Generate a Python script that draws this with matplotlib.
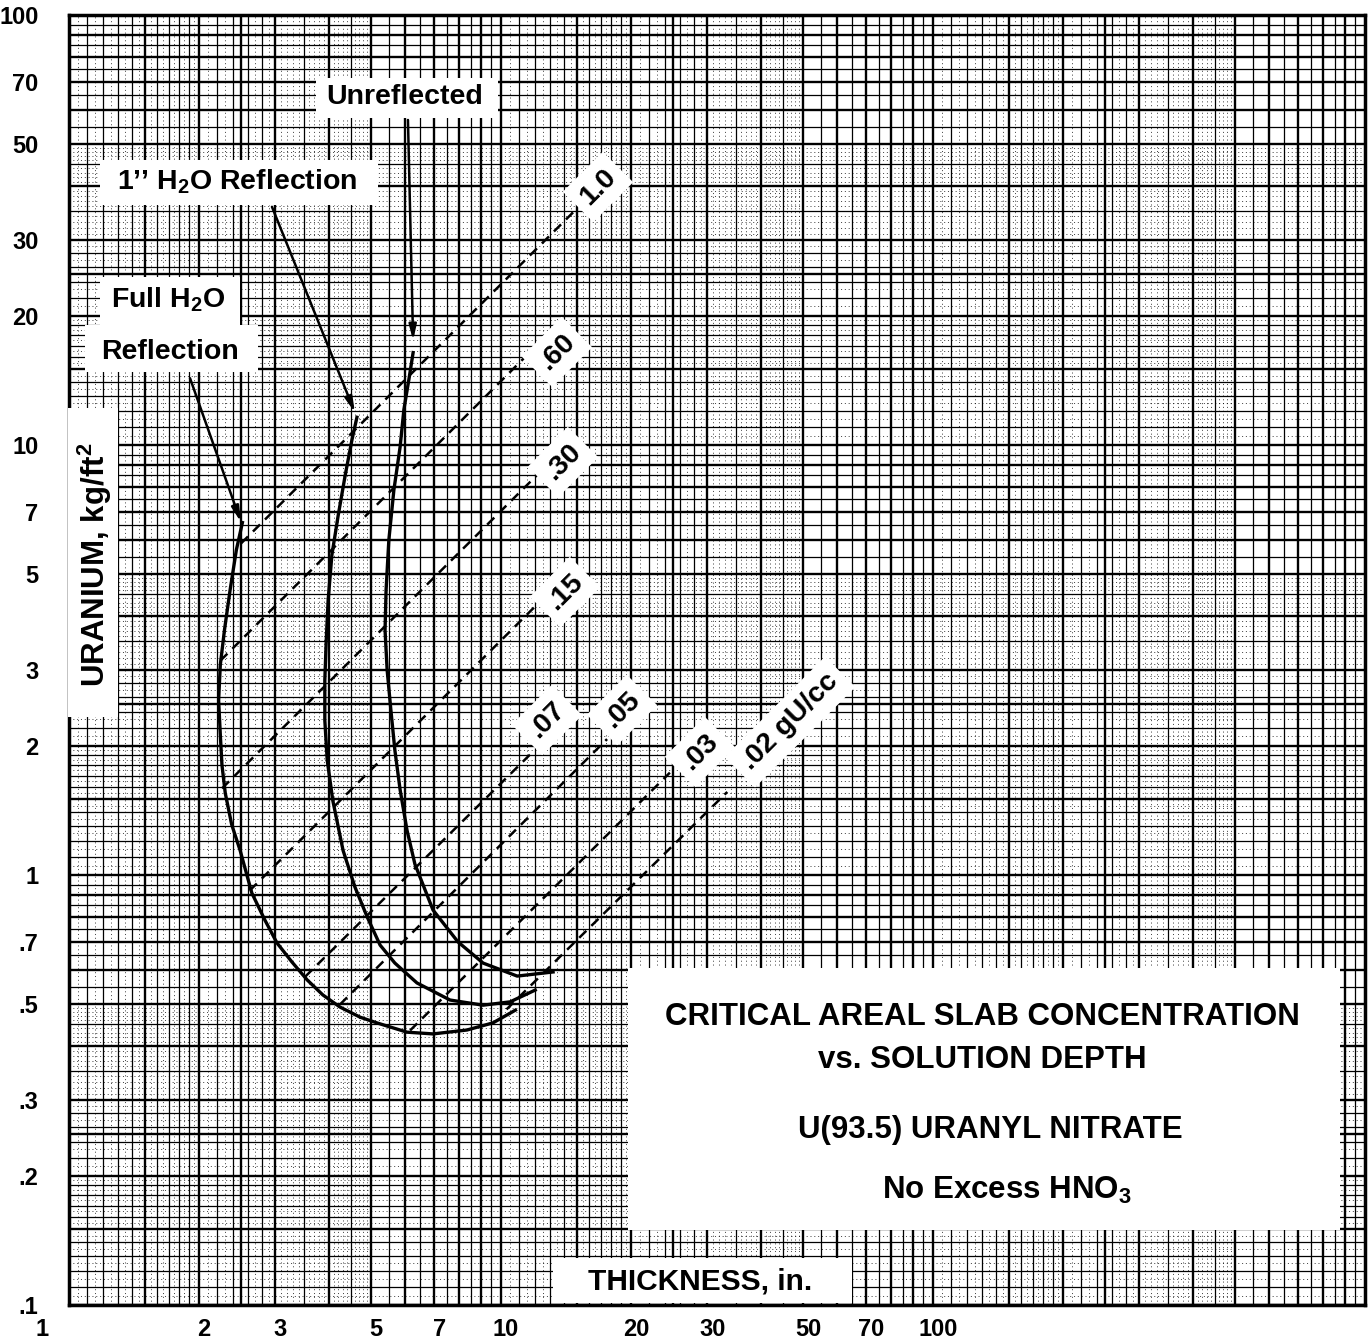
import numpy as np
import matplotlib
matplotlib.use("Agg")
import matplotlib.pyplot as plt
from matplotlib.patches import Rectangle
from matplotlib.transforms import ScaledTranslation

plt.rcParams['font.family'] = ['Liberation Sans', 'DejaVu Sans']
plt.rcParams['font.weight'] = 'bold'
plt.rcParams['mathtext.fontset'] = 'custom'
plt.rcParams['mathtext.rm'] = 'Liberation Sans:bold'
plt.rcParams['mathtext.bf'] = 'Liberation Sans:bold'
plt.rcParams['mathtext.it'] = 'Liberation Sans:bold'

# ---------------- data (thickness in., uranium kg/ft^2) ----------------
full_t = [2.52, 2.44, 2.36, 2.29, 2.24, 2.22, 2.24, 2.26, 2.30, 2.38, 2.49, 2.65, 2.84,
          3.03, 3.28, 3.56, 3.87, 4.24, 4.72, 5.16, 6.06, 6.96, 8.34, 9.58, 10.8]
full_u = [6.6, 5.7, 4.6, 3.71, 3.08, 2.55, 2.12, 1.80, 1.55, 1.31, 1.14, 0.908, 0.786,
          0.695, 0.628, 0.570, 0.526, 0.493, 0.467, 0.453, 0.431, 0.427, 0.436, 0.453, 0.485]

one_t = [4.64, 4.52, 4.36, 4.20, 4.06, 3.98, 3.94, 3.91, 3.91, 3.96, 4.08, 4.31, 4.59,
         4.90, 5.25, 5.68, 6.39, 7.62, 9.09, 10.5, 12.0]
one_u = [11.6, 10.3, 8.52, 6.87, 5.55, 4.36, 3.52, 2.84, 2.29, 1.85, 1.49, 1.14, 0.938,
         0.799, 0.687, 0.624, 0.561, 0.512, 0.498, 0.507, 0.540]

unref_t = [6.26, 6.12, 5.96, 5.84, 5.65, 5.50, 5.42, 5.39, 5.45, 5.56, 5.68, 5.84, 6.06,
           6.32, 6.96, 7.95, 9.09, 10.9, 13.2]
unref_u = [16.4, 14.2, 12.1, 9.89, 7.86, 6.01, 4.60, 3.71, 3.00, 2.42, 1.95, 1.58, 1.27,
           1.06, 0.829, 0.699, 0.624, 0.582, 0.595]

# constant-concentration lines (gU/cc): start and end points
dens_labels = ["1.0", ".60", ".30", ".15", ".07", ".05", ".03", ".02 gU/cc"]
dens_t0 = [2.50, 2.24, 2.26, 2.62, 3.52, 4.24, 6.16, 10.3]
dens_u0 = [5.90, 3.15, 1.59, 0.92, 0.58, 0.50, 0.435, 0.487]
dens_t1 = [15.0, 11.5, 12.1, 12.1, 11.7, 17.6, 24.6, 33.4]
dens_u1 = [35.5, 16.2, 8.5, 4.25, 1.91, 2.07, 1.73, 1.56]

x_ticks = [1, 2, 3, 5, 7, 10, 20, 30, 50, 70, 100]
x_ticklabels = ["1", "2", "3", "5", "7", "10", "20", "30", "50", "70", "100"]
y_ticks = [0.1, 0.2, 0.3, 0.5, 0.7, 1, 2, 3, 5, 7, 10, 20, 30, 50, 70, 100]
y_ticklabels = [".1", ".2", ".3", ".5", ".7", "1", "2", "3", "5", "7", "10", "20",
                "30", "50", "70", "100"]

# ---------------- figure ----------------
W, H = 1369, 1343
fig = plt.figure(figsize=(W / 100, H / 100), dpi=100)
L, R, T, B = 69, 1365, 15, 1305
ax = fig.add_axes([L / W, 1 - B / H, (R - L) / W, (B - T) / H])
ax.set_xscale('log')
ax.set_yscale('log')
ax.set_xlim(1, 1000)
ax.set_ylim(0.1, 100)


def P(px, py):
    return (px / W, 1 - py / H)


# graph-paper grid
heavy = [1, 1.5, 2, 2.5, 3, 4, 5, 6, 7, 8, 9]
medium = [1.1, 1.2, 1.3, 1.4, 1.6, 1.7, 1.8, 1.9, 2.2, 2.4, 2.6, 2.8, 3.5, 4.5,
          5.5, 6.5, 7.5, 8.5, 9.5]
fine = (list(np.round(np.arange(1.05, 2.0, 0.1), 3)) +
        [2.1, 2.3, 2.7, 2.9] +
        [m for m in np.round(np.arange(3.1, 5.0, 0.1), 2) if m not in (3.5, 4.0, 4.5)])


def gridvals(mants, decades):
    return [m * d for d in decades for m in mants]


xdec = [1, 10, 100]
ydec = [0.1, 1, 10]
ax.vlines(gridvals(fine, xdec), 0.1, 100, colors='k', lw=0.5, linestyles=(0, (1.5, 4)), zorder=1)
ax.hlines(gridvals(fine, ydec), 1, 1000, colors='k', lw=0.5, linestyles=(0, (1.5, 4)), zorder=1)
ax.vlines(gridvals(medium, xdec), 0.1, 100, colors='k', lw=0.9, zorder=1)
ax.hlines(gridvals(medium, ydec), 1, 1000, colors='k', lw=0.9, zorder=1)
ax.vlines(gridvals(heavy, xdec), 0.1, 100, colors='k', lw=1.7, zorder=1)
ax.hlines(gridvals(heavy, ydec), 1, 1000, colors='k', lw=1.7, zorder=1)

for sp in ax.spines.values():
    sp.set_linewidth(2.5)

# dashed concentration lines
for t0, u0, t1, u1 in zip(dens_t0, dens_u0, dens_t1, dens_u1):
    ax.plot([t0, t1], [u0, u1], color='k', lw=1.8, dashes=(4, 2.8), zorder=3,
            solid_capstyle='butt')

# critical curves
for t, u in [(full_t, full_u), (one_t, one_u), (unref_t, unref_u)]:
    ax.plot(t, u, color='k', lw=2.4, zorder=4, solid_joinstyle='round')

# ticks
ax.set_xticks(x_ticks)
ax.set_xticklabels(x_ticklabels)
ax.set_yticks(y_ticks)
ax.set_yticklabels(y_ticklabels)
ax.minorticks_off()
ax.tick_params(axis='both', length=0, labelsize=17)
ax.tick_params(axis='x', pad=9)
ax.tick_params(axis='y', pad=22)
for lab in ax.get_xticklabels():
    lab.set_fontweight('bold')
    dx = -27 if lab.get_text() == "1" else 5
    lab.set_transform(lab.get_transform() + ScaledTranslation(dx / 100, 0, fig.dpi_scale_trans))
for lab in ax.get_yticklabels():
    lab.set_fontweight('bold')

# white label boxes (pixel rectangles)
boxes = [(316, 78, 498, 118), (100, 160, 378, 205), (100, 277, 240, 325),
         (85, 325, 258, 372), (68, 408, 118, 717), (553, 1258, 852, 1303),
         (628, 968, 1340, 1230)]
for x0, y0, x1, y1 in boxes:
    fig.add_artist(Rectangle(P(x0, y1), (x1 - x0) / W, (y1 - y0) / H,
                             transform=fig.transFigure, facecolor='white',
                             edgecolor='none', zorder=5))

# arrows
arrows = [((6.09, 57.0), (6.26, 17.5)), ((2.95, 35.8), (4.59, 11.9)),
          ((1.906, 14.3), (2.50, 6.62))]
for start, tip in arrows:
    ax.annotate('', xy=tip, xytext=start,
                arrowprops=dict(arrowstyle='-|>,head_length=0.9,head_width=0.22',
                                lw=1.8, color='k', shrinkA=0, shrinkB=0), zorder=6)

fs = 20.5
fig.text(*P(405, 97), "Unreflected", ha='center', va='center', fontsize=fs,
         fontweight='bold', zorder=7)
fig.text(*P(237, 182), "1’’ H$_\\mathbf{2}$O Reflection", ha='center', va='center',
         fontsize=fs, fontweight='bold', zorder=7)
fig.text(*P(168, 300), "Full H$_\\mathbf{2}$O", ha='center', va='center', fontsize=fs,
         fontweight='bold', zorder=7)
fig.text(*P(170, 352), "Reflection", ha='center', va='center', fontsize=fs,
         fontweight='bold', zorder=7)
fig.text(*P(95, 565), "URANIUM, kg/ft$^\\mathbf{2}$", ha='center', va='center',
         fontsize=22.5, fontweight='bold', rotation=90, zorder=7)
fig.text(*P(700, 1282), "THICKNESS, in.", ha='center', va='center', fontsize=21.5,
         fontweight='bold', zorder=7)

tfs = 22.5
fig.text(*P(982, 1017), "CRITICAL AREAL SLAB CONCENTRATION", ha='center', va='center',
         fontsize=tfs, fontweight='bold', zorder=7)
fig.text(*P(982, 1060), "vs. SOLUTION DEPTH", ha='center', va='center',
         fontsize=tfs, fontweight='bold', zorder=7)
fig.text(*P(990, 1130), "U(93.5) URANYL NITRATE", ha='center', va='center',
         fontsize=tfs, fontweight='bold', zorder=7)
fig.text(*P(1007, 1190), "No Excess HNO$_\\mathbf{3}$", ha='center', va='center',
         fontsize=tfs, fontweight='bold', zorder=7)

# density labels (rotated 45 deg)
dens_pos = [(598, 187), (557, 352), (563, 462), (565, 592), (547, 720), (622, 710),
            (700, 752), (790, 722)]
for lab, (px, py) in zip(dens_labels, dens_pos):
    fig.text(*P(px, py), lab, ha='center', va='center', fontsize=20.5,
             fontweight='bold', rotation=45, rotation_mode='anchor', zorder=7,
             bbox=dict(boxstyle='square,pad=0.3', facecolor='white', edgecolor='none'))

fig.savefig("out.png", dpi=100, facecolor='white')
